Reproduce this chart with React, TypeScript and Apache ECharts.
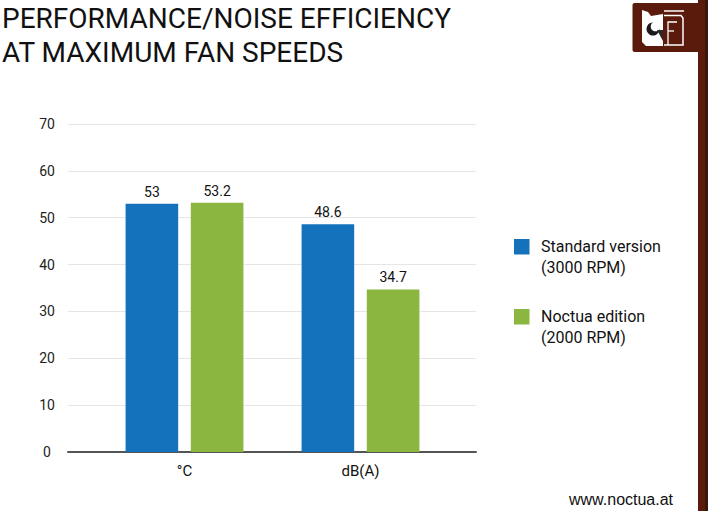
import React, { useEffect, useRef } from "react";
import * as echarts from "echarts";

const categories = ["°C", "dB(A)"];
const standardValues = [53, 48.6];
const noctuaValues = [53.2, 34.7];
const yTicks = { min: 0, max: 70, interval: 10 };
const seriesNames = ["Standard version\n(3000 RPM)", "Noctua edition\n(2000 RPM)"];
const titleLines = ["PERFORMANCE/NOISE EFFICIENCY", "AT MAXIMUM FAN SPEEDS"];
const website = "www.noctua.at";

const BLUE = "#1471bb";
const GREEN = "#8bb741";
const BROWN = "#5a1a0c";

export default function App() {
  const ref = useRef<HTMLDivElement>(null);
  useEffect(() => {
    document.body.style.margin = "0";
    const chart = echarts.init(ref.current!, null, { renderer: "svg" });
    const font = "Roboto, 'Noto Sans', sans-serif";
    chart.setOption({
      animation: false,
      backgroundColor: "#ffffff",
      grid: [
        { left: 68, right: 232, top: 124, bottom: 59 },
        { left: 96.5, right: 259.5, top: 124, bottom: 59 },
      ],
      xAxis: [
        {
          gridIndex: 0,
          type: "value",
          min: 0,
          max: 1,
          axisLine: { show: true, lineStyle: { color: "#555555", width: 2 } },
          axisTick: { show: false },
          axisLabel: { show: false },
          splitLine: { show: false },
        },
        {
          gridIndex: 1,
          type: "category",
          data: categories,
          axisLine: { show: false },
          axisTick: { show: false },
          axisLabel: { color: "#111111", fontSize: 15, fontFamily: font, margin: 11 },
        },
      ],
      yAxis: [
        {
          gridIndex: 0,
          type: "value",
          ...yTicks,
          axisLine: { show: false },
          axisTick: { show: false },
          axisLabel: { color: "#222222", fontSize: 14, fontFamily: font, align: "center", margin: 21 },
          splitLine: { lineStyle: { color: "#e6e6e6", width: 1 } },
        },
        {
          gridIndex: 1,
          type: "value",
          ...yTicks,
          show: false,
          splitLine: { show: false },
        },
      ],
      series: [
        {
          name: seriesNames[0],
          type: "bar",
          xAxisIndex: 1,
          yAxisIndex: 1,
          data: standardValues,
          barWidth: 52.6,
          barGap: "24%",
          itemStyle: { color: BLUE },
          label: { show: true, position: "top", distance: 5, color: "#111111", fontSize: 14, fontFamily: font },
        },
        {
          name: seriesNames[1],
          type: "bar",
          xAxisIndex: 1,
          yAxisIndex: 1,
          data: noctuaValues,
          barWidth: 52.6,
          barGap: "24%",
          itemStyle: { color: GREEN },
          label: { show: true, position: "top", distance: 5, color: "#111111", fontSize: 14, fontFamily: font },
        },
      ],
      graphic: [
        { type: "text", x: 2, y: 18, style: { text: titleLines[0], font: `28px ${font}`, fill: "#111111", verticalAlign: "middle" } },
        { type: "text", x: 2, y: 52, style: { text: titleLines[1], font: `28px ${font}`, fill: "#111111", verticalAlign: "middle" } },
        // legend
        { type: "rect", shape: { x: 514, y: 239, width: 15.5, height: 15.5 }, style: { fill: BLUE } },
        { type: "text", x: 541, y: 246, style: { text: seriesNames[0].split("\n")[0], font: `16px ${font}`, fill: "#111111", verticalAlign: "middle" } },
        { type: "text", x: 541, y: 267, style: { text: seriesNames[0].split("\n")[1], font: `16px ${font}`, fill: "#111111", verticalAlign: "middle" } },
        { type: "rect", shape: { x: 514, y: 309, width: 15.5, height: 15.5 }, style: { fill: GREEN } },
        { type: "text", x: 541, y: 316.5, style: { text: seriesNames[1].split("\n")[0], font: `16px ${font}`, fill: "#111111", verticalAlign: "middle" } },
        { type: "text", x: 541, y: 337.5, style: { text: seriesNames[1].split("\n")[1], font: `16px ${font}`, fill: "#111111", verticalAlign: "middle" } },
        // website
        { type: "text", x: 569, y: 499, style: { text: website, font: `16px 'Liberation Sans', Arial, sans-serif`, fill: "#111111", verticalAlign: "middle" } },
        // right brown bar and logo flag
        { type: "rect", shape: { x: 698, y: 0, width: 10, height: 511 }, style: { fill: BROWN } },
        { type: "rect", shape: { x: 705, y: 0, width: 3, height: 511 }, style: { fill: "#3a160c" } },
        { type: "rect", shape: { x: 632.5, y: 3, width: 67, height: 49, r: [2, 0, 0, 2] }, style: { fill: BROWN } },
        {
          type: "polygon",
          shape: { points: [[642, 10], [648, 12], [651, 16], [663, 14], [663, 46], [646, 46], [642, 42]] },
          style: { fill: "#ffffff" },
        },
        { type: "circle", shape: { cx: 653, cy: 29, r: 6.5 }, style: { fill: "#1a1a1a" } },
        { type: "circle", shape: { cx: 655.5, cy: 26.5, r: 4.8 }, style: { fill: "#ffffff" } },
        { type: "polygon", shape: { points: [[657, 30], [663, 30], [663, 41]] }, style: { fill: "#2a2a2a" } },
        { type: "polyline", shape: { points: [[664, 11], [684, 11]] }, style: { stroke: "#ffffff", lineWidth: 1.5 } },
        { type: "polyline", shape: { points: [[664, 15.5], [681, 15.5], [683, 18], [683, 45], [664, 45]] }, style: { stroke: "#ffffff", lineWidth: 1.5, fill: "none" } },
        { type: "polyline", shape: { points: [[668, 45], [668, 22], [677, 22]] }, style: { stroke: "#ffffff", lineWidth: 1.3, fill: "none" } },
        { type: "polyline", shape: { points: [[668, 31], [674, 31]] }, style: { stroke: "#ffffff", lineWidth: 1.3 } },
      ],
    });
    return () => chart.dispose();
  }, []);
  return <div ref={ref} style={{ width: 708, height: 511 }} />;
}
